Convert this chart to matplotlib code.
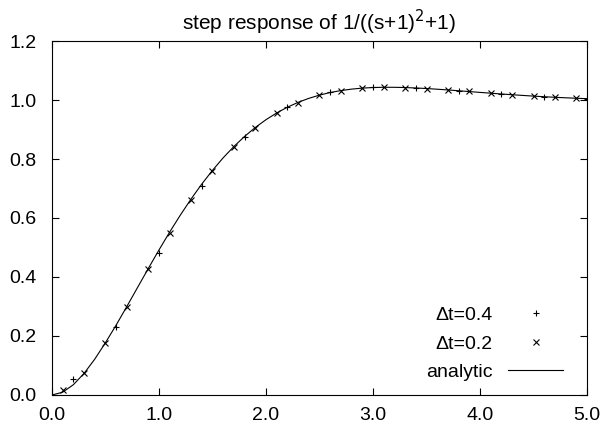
import numpy as np
import matplotlib
matplotlib.use('Agg')
from matplotlib import pyplot as plt


# analytic step response, every 0.1
t_analytic = [round(0.1 * i, 1) for i in range(51)]
y_analytic = [0.0, 0.0094, 0.0349, 0.0733, 0.1216, 0.1774, 0.2372, 0.3003, 0.3646, 0.4288,
              0.4917, 0.5524, 0.6101, 0.6645, 0.7151, 0.7616, 0.8041, 0.8424, 0.8766, 0.9068,
              0.9333, 0.9561, 0.9756, 0.9920, 1.0056, 1.0166, 1.0254, 1.0320, 1.0369, 1.0403,
              1.0423, 1.0431, 1.0431, 1.0422, 1.0408, 1.0389, 1.0366, 1.0341, 1.0314, 1.0286,
              1.0258, 1.0231, 1.0204, 1.0179, 1.0155, 1.0132, 1.0111, 1.0092, 1.0075, 1.0059,
              1.0046]

# dt = 0.4 samples (+)
t_04 = [0.2, 0.6, 1.0, 1.4, 1.8, 2.2, 2.6, 3.0, 3.4, 3.8, 4.2, 4.6, 5.0]
y_04 = [0.054, 0.232, 0.482, 0.708, 0.873, 0.975, 1.026, 1.045, 1.042, 1.032, 1.020, 1.010, 1.003]

# dt = 0.2 samples (x)
t_02 = [0.1, 0.3, 0.5, 0.7, 0.9, 1.1, 1.3, 1.5, 1.7, 1.9, 2.1, 2.3, 2.5,
        2.7, 2.9, 3.1, 3.3, 3.5, 3.7, 3.9, 4.1, 4.3, 4.5, 4.7, 4.9]
y_02 = [0.017, 0.075, 0.176, 0.298, 0.426, 0.550, 0.662, 0.760, 0.841, 0.906, 0.955, 0.991, 1.017,
        1.032, 1.041, 1.044, 1.042, 1.039, 1.034, 1.029, 1.023, 1.018, 1.013, 1.009, 1.006]

x_ticks = [0.0, 1.0, 2.0, 3.0, 4.0, 5.0]
y_ticks = [0.0, 0.2, 0.4, 0.6, 0.8, 1.0, 1.2]


def main():
    plt.rcParams['font.family'] = ['Liberation Sans', 'DejaVu Sans']
    plt.rcParams['font.size'] = 14

    fig = plt.figure(figsize=(6.03, 4.29), dpi=100)
    ax = fig.add_axes([0.0862, 0.0793, 0.8873, 0.8251])

    ax.plot(t_04, y_04, linestyle='none', marker='+', markersize=5,
            markeredgewidth=0.8, color='black', label='Δt=0.4')
    ax.plot(t_02, y_02, linestyle='none', marker='x', markersize=4.5,
            markeredgewidth=0.8, color='black', label='Δt=0.2')
    ax.plot(t_analytic, y_analytic, color='black', linewidth=0.8, label='analytic')

    ax.set_xlim(0, 5)
    ax.set_ylim(0, 1.2)
    ax.set_xticks(x_ticks)
    ax.set_xticklabels(['%.1f' % v for v in x_ticks])
    ax.set_yticks(y_ticks)
    ax.set_yticklabels(['%.1f' % v for v in y_ticks])
    ax.tick_params(direction='in', top=True, right=True, length=5, width=0.8)
    ax.tick_params(axis='x', pad=9)
    ax.tick_params(axis='y', pad=11)
    for s in ax.spines.values():
        s.set_linewidth(0.8)

    ax.set_title('step response of 1/((s+1)$^2$+1)', fontsize=15, pad=8)

    ax.legend(loc='lower right', bbox_to_anchor=(0.955, 0.04), frameon=False,
              markerfirst=False, handlelength=2.8, handletextpad=0.8,
              labelspacing=0.55, borderpad=0, borderaxespad=0, fontsize=14)

    fig.savefig('out.png', dpi=100)


if __name__ == '__main__':
    main()
